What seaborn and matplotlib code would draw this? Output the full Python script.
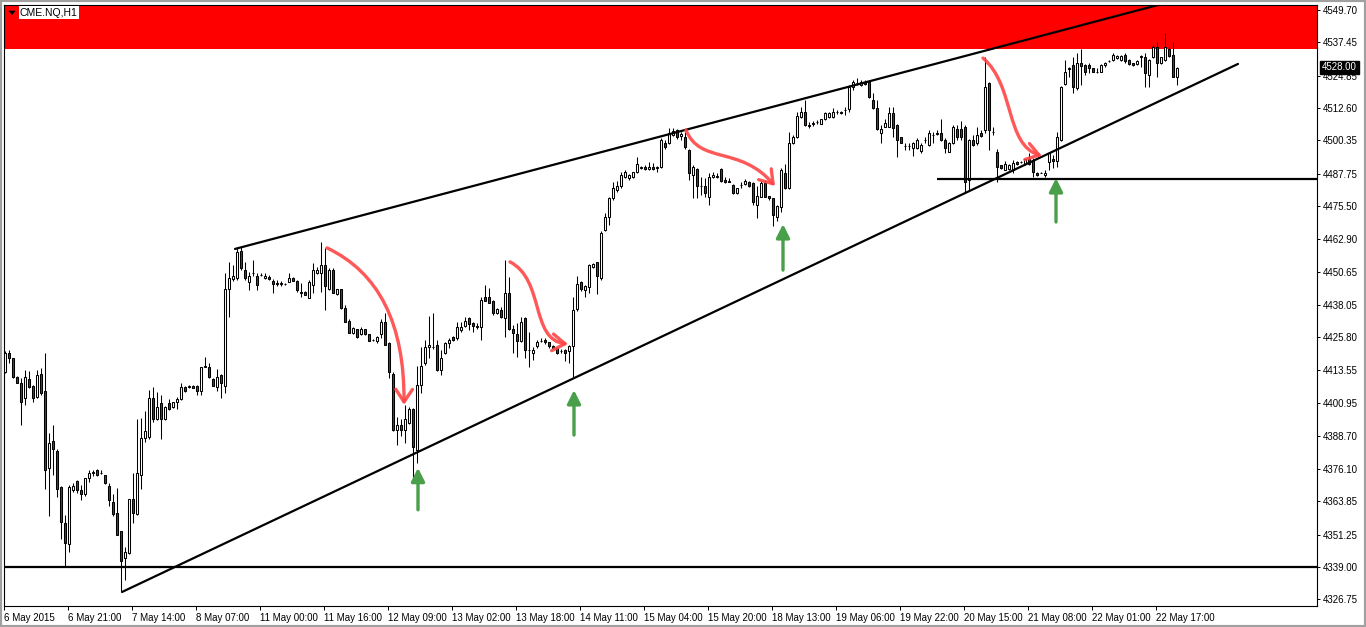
import numpy as np
import pandas as pd
import matplotlib
matplotlib.use("Agg")
import matplotlib.pyplot as plt
import seaborn as sns
from matplotlib.path import Path
from matplotlib.patches import FancyArrowPatch, Rectangle, Polygon
from matplotlib.transforms import blended_transform_factory

# CME.NQ H1 candles (one bar per hour)
opens = [
    4412.9, 4419.8, 4417.9, 4411.0, 4408.7, 4402.8, 4410.0, 4407.6, 4403.4, 4411.9,
    4405.7, 4376.6, 4386.5, 4382.9, 4369.4, 4355.5, 4347.7, 4368.1, 4371.5, 4368.1,
    4366.5, 4372.5, 4374.4, 4375.7, 4374.4, 4373.7, 4369.6, 4363.7, 4359.3, 4352.6,
    4342.3, 4344.4, 4364.6, 4359.0, 4373.8, 4387.7, 4388.3, 4402.8, 4394.9, 4400.9,
    4394.9, 4400.9, 4399.6, 4401.2, 4402.4, 4406.9, 4406.9, 4407.6, 4407.6, 4405.6,
    4414.8, 4414.8, 4410.0, 4407.2, 4411.6, 4407.6, 4444.0, 4447.8, 4448.2, 4458.7,
    4451.3, 4446.9, 4450.1, 4449.1, 4449.5, 4448.2, 4448.6, 4447.3, 4446.3, 4446.3,
    4446.0, 4446.9, 4448.2, 4447.2, 4443.1, 4443.0, 4440.9, 4445.7, 4450.1, 4450.1,
    4453.2, 4444.0, 4451.3, 4442.1, 4444.0, 4436.8, 4432.2, 4427.6, 4428.9, 4427.1,
    4428.9, 4427.1, 4424.9, 4424.6, 4427.1, 4431.8, 4423.9, 4412.0, 4390.8, 4392.7,
    4390.8, 4393.6, 4398.6, 4383.2, 4407.8, 4416.0, 4422.1, 4422.1, 4423.0, 4413.5,
    4419.8, 4423.9, 4425.9, 4425.5, 4428.6, 4430.2, 4433.1, 4431.2, 4430.2, 4429.9,
    4441.0, 4441.0, 4439.7, 4435.0, 4436.2, 4433.1, 4442.8, 4428.9, 4427.1, 4424.6,
    4433.1, 4421.1, 4420.1, 4422.7, 4424.5, 4424.9, 4424.0, 4422.7, 4421.7, 4420.8,
    4421.1, 4420.8, 4422.7, 4436.6, 4446.9, 4443.8, 4445.0, 4452.6, 4454.2, 4448.2,
    4466.5, 4471.3, 4478.5, 4481.6, 4483.1, 4486.7, 4486.3, 4486.7, 4488.3, 4489.8,
    4490.2, 4489.4, 4490.2, 4490.2, 4490.2, 4499.3, 4499.3, 4502.4, 4504.3, 4502.0,
    4501.8, 4496.7, 4487.3, 4489.4, 4483.1, 4483.1, 4479.1, 4486.4, 4486.6, 4489.4,
    4485.4, 4484.8, 4483.5, 4480.3, 4483.5, 4483.9, 4484.8, 4484.4, 4475.9, 4479.1,
    4484.4, 4479.3, 4478.4, 4471.3, 4475.3, 4488.2, 4482.2, 4499.3, 4501.5, 4509.3,
    4511.2, 4506.2, 4506.8, 4507.4, 4506.6, 4508.3, 4509.3, 4509.3, 4511.2, 4511.2,
    4511.9, 4512.1, 4520.7, 4522.0, 4521.3, 4522.6, 4522.6, 4515.6, 4512.5, 4503.0,
    4505.6, 4505.6, 4510.6, 4506.2, 4501.5, 4498.2, 4498.2, 4497.4, 4497.4, 4496.5,
    4500.5, 4498.6, 4502.4, 4503.0, 4503.3, 4500.5, 4496.1, 4499.3, 4504.6, 4504.6,
    4505.3, 4485.4, 4500.5, 4499.3, 4503.3, 4504.3, 4522.0, 4503.7, 4496.1, 4491.0,
    4489.2, 4489.4, 4489.2, 4492.3, 4492.3, 4491.4, 4493.2, 4492.7, 4488.2, 4488.2,
    4487.3, 4492.3, 4493.2, 4492.7, 4500.5, 4521.7, 4527.6, 4528.9, 4520.1, 4529.5,
    4528.9, 4528.9, 4527.6, 4526.4, 4526.4, 4528.9, 4530.5, 4530.8, 4531.4, 4530.8,
    4532.7, 4530.8, 4529.5, 4529.3, 4531.8, 4531.8, 4525.1, 4531.8, 4535.6, 4529.5,
    4530.8, 4534.8, 4532.7, 4524.5,
]
highs = [
    4420.5, 4421.1, 4418.2, 4411.2, 4410.4, 4413.5, 4413.1, 4408.0, 4413.5, 4414.1,
    4419.8, 4389.6, 4392.6, 4383.5, 4369.6, 4358.6, 4370.0, 4370.9, 4371.9, 4370.0,
    4372.5, 4375.7, 4375.7, 4375.9, 4375.7, 4373.9, 4370.6, 4366.6, 4368.8, 4352.6,
    4346.7, 4364.6, 4374.4, 4394.9, 4395.2, 4397.8, 4405.9, 4407.2, 4405.3, 4404.1,
    4400.0, 4402.4, 4401.5, 4403.4, 4408.7, 4407.6, 4407.8, 4407.9, 4407.9, 4414.8,
    4418.6, 4416.0, 4410.4, 4413.8, 4411.8, 4450.1, 4454.5, 4453.2, 4460.0, 4460.2,
    4454.5, 4450.7, 4455.1, 4450.3, 4450.3, 4450.3, 4449.5, 4447.8, 4447.6, 4447.3,
    4446.3, 4450.3, 4448.5, 4447.5, 4446.5, 4443.2, 4447.6, 4453.9, 4452.6, 4462.1,
    4459.5, 4452.0, 4452.0, 4444.2, 4444.2, 4438.1, 4432.7, 4429.9, 4429.1, 4429.9,
    4429.1, 4427.3, 4425.1, 4426.4, 4432.7, 4434.9, 4424.0, 4412.9, 4395.9, 4394.8,
    4400.3, 4399.6, 4399.0, 4415.0, 4422.3, 4424.9, 4433.9, 4435.2, 4424.9, 4421.1,
    4424.2, 4425.5, 4426.2, 4431.8, 4431.5, 4433.7, 4433.5, 4431.5, 4431.2, 4441.0,
    4445.5, 4444.5, 4440.0, 4437.0, 4437.5, 4455.1, 4448.7, 4430.5, 4431.2, 4433.7,
    4433.5, 4428.0, 4422.3, 4424.9, 4425.5, 4425.5, 4424.2, 4422.9, 4422.0, 4421.5,
    4421.5, 4423.0, 4441.3, 4449.1, 4447.2, 4445.6, 4453.6, 4454.0, 4454.5, 4466.0,
    4472.8, 4479.0, 4484.8, 4485.0, 4488.5, 4489.2, 4487.6, 4488.6, 4494.2, 4490.6,
    4491.0, 4492.3, 4491.7, 4490.5, 4501.2, 4500.5, 4504.9, 4504.9, 4504.7, 4503.7,
    4503.7, 4497.0, 4491.1, 4489.8, 4486.6, 4486.0, 4487.9, 4488.5, 4487.9, 4489.8,
    4486.6, 4486.0, 4483.8, 4482.5, 4484.8, 4485.6, 4485.0, 4484.6, 4483.1, 4485.1,
    4485.4, 4479.5, 4478.6, 4476.0, 4489.8, 4491.4, 4503.7, 4502.4, 4511.2, 4513.1,
    4515.6, 4507.4, 4507.8, 4508.1, 4508.5, 4511.2, 4511.2, 4512.5, 4511.9, 4511.4,
    4513.1, 4521.3, 4523.2, 4523.8, 4523.2, 4523.2, 4523.2, 4518.2, 4515.6, 4506.2,
    4508.3, 4513.1, 4513.1, 4506.5, 4501.8, 4499.3, 4499.3, 4499.9, 4501.1, 4499.3,
    4501.8, 4504.3, 4503.7, 4504.3, 4508.3, 4501.1, 4499.6, 4506.2, 4506.2, 4507.8,
    4506.2, 4500.8, 4502.4, 4505.6, 4504.3, 4532.0, 4522.6, 4505.3, 4497.0, 4491.2,
    4492.7, 4491.3, 4493.0, 4492.5, 4492.6, 4493.5, 4495.5, 4493.6, 4488.5, 4488.4,
    4489.2, 4496.1, 4494.9, 4503.7, 4520.8, 4530.8, 4528.3, 4532.0, 4533.3, 4534.8,
    4529.3, 4529.5, 4527.8, 4527.6, 4529.1, 4530.1, 4530.8, 4533.3, 4532.7, 4532.7,
    4533.3, 4531.0, 4529.7, 4530.8, 4532.6, 4533.3, 4531.1, 4536.5, 4537.7, 4532.0,
    4540.9, 4535.8, 4537.7, 4528.0,
]
lows = [
    4412.3, 4416.0, 4410.4, 4408.5, 4392.5, 4400.3, 4406.5, 4401.5, 4403.0, 4404.0,
    4368.4, 4358.3, 4373.8, 4365.3, 4349.4, 4338.9, 4344.8, 4367.5, 4367.0, 4364.3,
    4366.0, 4371.3, 4373.5, 4373.2, 4374.0, 4370.4, 4362.2, 4358.3, 4351.1, 4329.7,
    4334.1, 4344.0, 4355.5, 4358.5, 4368.4, 4386.4, 4387.5, 4394.0, 4394.5, 4387.5,
    4394.5, 4398.3, 4399.0, 4398.6, 4402.0, 4405.0, 4406.5, 4406.5, 4404.1, 4404.1,
    4414.5, 4410.5, 4407.4, 4405.7, 4402.8, 4404.7, 4433.7, 4447.0, 4447.5, 4451.3,
    4447.6, 4443.8, 4449.1, 4443.8, 4449.0, 4448.0, 4447.5, 4442.8, 4445.3, 4445.3,
    4445.7, 4446.7, 4447.0, 4443.1, 4441.2, 4441.7, 4440.7, 4442.8, 4449.9, 4443.1,
    4436.2, 4443.8, 4442.5, 4441.9, 4436.5, 4431.6, 4427.4, 4427.1, 4425.7, 4426.9,
    4426.9, 4424.4, 4424.4, 4423.6, 4425.5, 4422.8, 4410.4, 4390.5, 4385.1, 4388.5,
    4385.8, 4393.0, 4371.3, 4378.2, 4404.7, 4415.5, 4418.0, 4421.5, 4413.0, 4411.6,
    4419.5, 4421.7, 4424.5, 4424.9, 4427.8, 4429.9, 4428.5, 4428.0, 4428.9, 4424.9,
    4439.5, 4438.8, 4434.3, 4434.7, 4433.0, 4426.1, 4428.5, 4419.8, 4418.5, 4424.0,
    4417.9, 4414.8, 4417.3, 4422.0, 4424.0, 4423.5, 4422.0, 4421.5, 4419.5, 4420.0,
    4417.0, 4416.0, 4411.0, 4436.0, 4443.5, 4441.3, 4442.5, 4452.0, 4442.3, 4447.5,
    4466.0, 4468.4, 4478.0, 4481.0, 4482.5, 4486.0, 4485.4, 4486.3, 4488.0, 4489.5,
    4489.1, 4489.1, 4489.1, 4488.5, 4489.8, 4497.0, 4499.0, 4502.0, 4501.0, 4500.5,
    4497.3, 4485.4, 4478.4, 4478.4, 4479.7, 4479.1, 4475.9, 4486.0, 4486.2, 4484.8,
    4484.1, 4484.5, 4480.0, 4480.0, 4482.2, 4483.6, 4482.8, 4475.9, 4470.9, 4478.8,
    4478.8, 4477.8, 4468.1, 4470.0, 4473.4, 4482.0, 4482.0, 4499.0, 4501.2, 4509.0,
    4506.0, 4504.9, 4505.9, 4506.6, 4506.4, 4508.1, 4508.7, 4509.0, 4510.4, 4510.4,
    4510.0, 4511.2, 4519.4, 4521.5, 4521.0, 4521.4, 4516.5, 4512.2, 4504.2, 4499.3,
    4505.3, 4505.3, 4501.8, 4494.2, 4499.3, 4496.7, 4496.7, 4494.5, 4497.0, 4495.5,
    4499.3, 4498.3, 4499.3, 4502.5, 4500.2, 4495.5, 4495.8, 4499.0, 4500.5, 4500.5,
    4481.0, 4481.4, 4498.3, 4498.6, 4501.8, 4503.0, 4496.7, 4502.4, 4484.8, 4489.5,
    4489.0, 4489.2, 4487.9, 4491.2, 4492.0, 4491.2, 4491.2, 4486.6, 4487.0, 4488.0,
    4486.6, 4489.2, 4489.8, 4490.4, 4500.2, 4521.4, 4524.5, 4518.4, 4519.4, 4521.3,
    4525.1, 4525.7, 4526.2, 4525.7, 4526.2, 4528.3, 4530.2, 4530.5, 4531.2, 4530.5,
    4529.5, 4529.0, 4528.5, 4529.0, 4528.3, 4520.7, 4520.7, 4531.5, 4524.5, 4529.3,
    4530.5, 4532.0, 4524.3, 4521.3,
]
closes = [
    4419.8, 4417.9, 4411.0, 4408.7, 4401.5, 4410.7, 4406.9, 4402.8, 4411.6, 4404.7,
    4375.7, 4385.8, 4383.5, 4368.4, 4356.1, 4348.2, 4369.4, 4369.6, 4368.1, 4366.5,
    4372.5, 4374.4, 4374.8, 4373.7, 4374.5, 4370.6, 4364.3, 4359.0, 4351.1, 4341.4,
    4344.5, 4364.6, 4359.3, 4374.4, 4387.7, 4390.6, 4402.8, 4394.9, 4399.6, 4394.9,
    4399.6, 4398.6, 4401.5, 4402.4, 4406.9, 4405.6, 4407.6, 4406.8, 4405.6, 4414.8,
    4414.9, 4410.7, 4407.6, 4410.7, 4408.7, 4444.0, 4448.2, 4449.1, 4458.3, 4452.0,
    4448.2, 4449.1, 4450.3, 4445.7, 4449.3, 4449.1, 4447.8, 4445.9, 4446.2, 4446.2,
    4445.9, 4448.2, 4447.3, 4443.8, 4442.5, 4441.9, 4446.9, 4451.3, 4451.3, 4453.2,
    4445.3, 4451.3, 4442.8, 4444.0, 4436.8, 4431.8, 4427.6, 4429.3, 4425.9, 4428.9,
    4427.1, 4424.6, 4424.8, 4425.9, 4431.8, 4423.0, 4412.9, 4390.8, 4392.7, 4390.8,
    4394.8, 4398.6, 4384.5, 4407.8, 4415.0, 4422.1, 4423.0, 4422.2, 4413.5, 4417.9,
    4423.9, 4424.9, 4424.9, 4429.9, 4429.9, 4432.2, 4430.9, 4430.2, 4429.9, 4440.0,
    4439.7, 4439.0, 4435.0, 4436.6, 4433.7, 4442.8, 4428.9, 4427.6, 4424.6, 4431.8,
    4421.1, 4421.0, 4421.1, 4424.0, 4424.4, 4424.0, 4422.7, 4421.7, 4419.8, 4420.7,
    4419.8, 4422.7, 4436.2, 4446.0, 4444.0, 4445.3, 4453.2, 4453.6, 4449.1, 4465.2,
    4471.3, 4478.5, 4482.2, 4483.1, 4487.2, 4488.3, 4487.3, 4488.3, 4491.3, 4490.2,
    4489.4, 4490.4, 4489.4, 4490.1, 4500.5, 4497.7, 4503.0, 4504.1, 4501.8, 4502.8,
    4497.7, 4488.2, 4490.2, 4483.1, 4483.2, 4480.3, 4486.4, 4487.3, 4486.7, 4485.1,
    4484.8, 4484.7, 4480.3, 4482.2, 4483.4, 4485.1, 4483.1, 4477.2, 4479.3, 4484.4,
    4479.1, 4478.4, 4472.1, 4475.7, 4489.2, 4482.2, 4499.3, 4501.5, 4509.6, 4511.2,
    4506.2, 4505.8, 4506.7, 4507.3, 4508.3, 4510.6, 4510.9, 4511.2, 4511.1, 4510.6,
    4511.8, 4520.7, 4522.6, 4522.1, 4522.6, 4521.7, 4516.7, 4512.5, 4504.5, 4504.5,
    4506.8, 4510.6, 4504.9, 4500.5, 4499.5, 4498.1, 4498.1, 4499.3, 4500.5, 4498.6,
    4500.4, 4503.3, 4502.3, 4502.9, 4500.5, 4497.4, 4499.3, 4505.3, 4501.5, 4501.5,
    4484.8, 4500.5, 4498.6, 4502.4, 4502.0, 4520.7, 4504.3, 4503.6, 4490.4, 4489.8,
    4491.4, 4491.0, 4491.9, 4491.4, 4492.2, 4493.2, 4491.4, 4488.5, 4487.3, 4488.1,
    4488.2, 4495.5, 4492.7, 4501.5, 4520.4, 4526.4, 4527.5, 4520.4, 4529.5, 4528.5,
    4526.4, 4527.6, 4526.4, 4526.3, 4528.9, 4529.5, 4530.4, 4532.7, 4532.4, 4532.4,
    4530.5, 4529.3, 4528.8, 4530.5, 4532.3, 4525.7, 4530.8, 4535.8, 4529.5, 4531.8,
    4535.6, 4532.3, 4524.5, 4527.6,
]

# axis labels
xtick_labels = ["6 May 2015", "6 May 21:00", "7 May 14:00", "8 May 07:00", "11 May 00:00",
                "11 May 16:00", "12 May 09:00", "13 May 02:00", "13 May 18:00", "14 May 11:00",
                "15 May 04:00", "15 May 20:00", "18 May 13:00", "19 May 06:00", "19 May 22:00",
                "20 May 15:00", "21 May 08:00", "22 May 01:00", "22 May 17:00"]
ytick_values = [4549.70, 4537.45, 4524.85, 4512.60, 4500.35, 4487.75, 4475.50, 4462.90,
                4450.65, 4438.05, 4425.80, 4413.55, 4400.95, 4388.70, 4376.10, 4363.85,
                4351.25, 4339.00, 4326.75]
last_price = 4528.00

# drawn objects (bar index, price)
trend_bars = [57.5, 290.0, 29.25, 308.25]
trend_prices = [4459.3, 4552.3, 4329.5, 4529.3]
trend_names = ["upper", "upper", "lower", "lower"]
support_level = 4339.00
mid_level = 4485.8
mid_start = 233
zone_bottom = 4535.1

red_arrows = [
    [(80.5, 4459.7), (100.0, 4445.7), (99.75, 4400.3)],
    [(126.25, 4454.4), (135.0, 4447.6), (131.25, 4424.9), (140.75, 4423.3)],
    [(170.25, 4504.3), (173.75, 4491.1), (183.75, 4498.6), (192.5, 4483.1)],
    [(244.5, 4531.5), (252.5, 4521.3), (250.0, 4498.6), (259.25, 4494.5)],
]
green_bars = [103.25, 142.25, 194.5, 262.75]
green_tail = [4360.6, 4388.9, 4451.3, 4469.5]
green_tip = [4376.5, 4405.9, 4468.7, 4486.1]

sns.set_theme(style="white")
plt.rcParams["font.family"] = ["Liberation Sans", "DejaVu Sans"]

W, H = 1366, 627
fig = plt.figure(figsize=(W / 100, H / 100), dpi=100)
fig.patch.set_facecolor("white")
ax = fig.add_axes([4 / W, (H - 606) / H, (1317 - 4) / W, (606 - 5) / H])
ax.set_facecolor("white")

o = np.array(opens)
h = np.array(highs)
l = np.array(lows)
c = np.array(closes)
bars = np.arange(len(c))
up = c >= o

# resistance zone
ax.axhspan(zone_bottom, 4600, color="#ff0000", lw=0, zorder=1)

# candles
ax.vlines(bars, l, h, color="black", lw=0.75, zorder=3)
ax.bar(bars, np.maximum(np.abs(c - o), 0.12), bottom=np.minimum(o, c), width=0.5,
       color=["white" if u else "#e00000" for u in up], edgecolor="black",
       linewidth=0.75, zorder=4)

# trend lines
trend = pd.DataFrame({"bar": trend_bars, "price": trend_prices, "line": trend_names})
sns.lineplot(data=trend, x="bar", y="price", units="line", estimator=None,
             color="black", lw=1.6, ax=ax, legend=False, zorder=5)
ax.axhline(support_level, color="black", lw=1.6, zorder=5)
ax.hlines(mid_level, mid_start, 330, color="black", lw=1.6, zorder=5)

# red curved arrows
for pts in red_arrows:
    if len(pts) == 3:
        codes = [Path.MOVETO, Path.CURVE3, Path.CURVE3]
    else:
        codes = [Path.MOVETO, Path.CURVE4, Path.CURVE4, Path.CURVE4]
    arr = FancyArrowPatch(path=Path(pts, codes), arrowstyle="->,head_length=0.9,head_width=0.6",
                          mutation_scale=10, lw=2.4, color="#ff4646", alpha=0.9, zorder=6)
    ax.add_patch(arr)

# green arrows
for x, y0, y1 in zip(green_bars, green_tail, green_tip):
    ax.annotate("", xy=(x, y1), xytext=(x, y0),
                arrowprops=dict(arrowstyle="-|>,head_length=0.8,head_width=0.4",
                                mutation_scale=10, lw=2.4, color="#4a9f4a",
                                shrinkA=0, shrinkB=0), zorder=6)

ax.set_xlim(-0.25, 328)
ax.set_ylim(4324.2, 4551.6)
ax.set_xlabel("")
ax.set_ylabel("")

ax.set_xticks([16 * k - 0.25 for k in range(len(xtick_labels))])
ax.set_xticklabels(xtick_labels, ha="left")
ax.yaxis.tick_right()
ax.set_yticks(ytick_values)
ax.set_yticklabels([f"{v:.2f}" for v in ytick_values])
ax.tick_params(axis="x", bottom=True, direction="out", length=3, width=0.7,
               pad=2, labelsize=7, colors="black")
ax.tick_params(axis="y", right=True, left=False, labelright=True, labelleft=False,
               direction="out", length=2.5, width=0.7, pad=2, labelsize=7, colors="black")
for sp in ax.spines.values():
    sp.set_visible(True)
    sp.set_color("black")
    sp.set_linewidth(0.8)

# last price tag
tr = blended_transform_factory(ax.transAxes, ax.transData)
ax.text(1.0 + 5 / 1313, last_price, f"{last_price:.2f}", transform=tr, ha="left", va="center",
        color="white", fontsize=7, clip_on=False, zorder=10,
        bbox=dict(facecolor="black", edgecolor="black", pad=1.2))

# symbol caption
fig.text(20 / W, 1 - 12.5 / H, "CME.NQ,H1", fontsize=7.5, color="black", ha="left", va="center",
         bbox=dict(facecolor="white", edgecolor="none", pad=1.0), zorder=10)
fig.patches.append(Polygon([(9 / W, 1 - 11 / H), (15 / W, 1 - 11 / H), (12 / W, 1 - 14.5 / H)],
                           closed=True, transform=fig.transFigure, facecolor="black",
                           edgecolor="black", lw=0.5, zorder=10))
fig.patches.append(Rectangle((0, 0), 1, 1, transform=fig.transFigure, fill=False,
                             edgecolor="#a0a0a0", lw=3, zorder=10))

fig.savefig("out.png", dpi=100, facecolor="white")
